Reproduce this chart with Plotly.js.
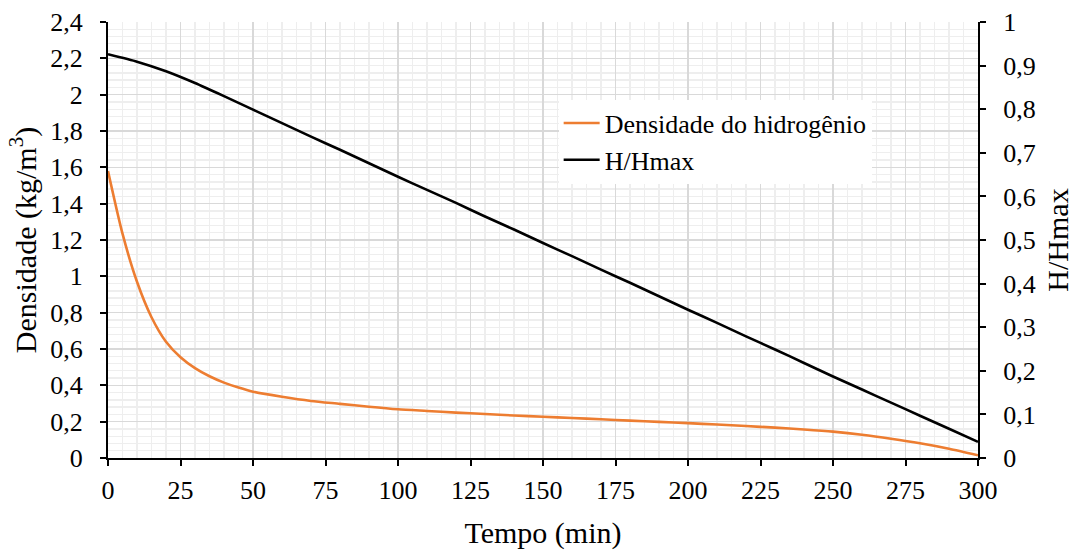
<!DOCTYPE html>
<html>
<head>
<meta charset="utf-8">
<script src="https://cdn.plot.ly/plotly-3.0.1.min.js"></script>
<style>
  html, body { margin: 0; padding: 0; background: #ffffff; }
  #chart { width: 1079px; height: 551px; }
</style>
</head>
<body>
<div id="chart"></div>
<script>
// Hydrogen density during discharge (left axis, kg/m³)
const tempoDensidade = [0, 5, 10, 15, 20, 25, 30, 35, 40, 45, 50,
  60, 70, 80, 90, 100, 110, 120, 130, 140, 150, 160, 170, 180, 190, 200,
  210, 220, 230, 240, 250, 260, 270, 280, 290, 300];
const densidade = [1.58, 1.235, 0.97, 0.775, 0.64, 0.555, 0.495, 0.45, 0.415, 0.3875, 0.365,
  0.337, 0.314, 0.298, 0.282, 0.268, 0.259, 0.250, 0.242, 0.234, 0.227, 0.220, 0.213, 0.206, 0.199, 0.192,
  0.184, 0.176, 0.167, 0.157, 0.145, 0.128, 0.106, 0.081, 0.051, 0.015];

// Relative level H/Hmax (right axis)
const tempoNivel = [0, 10, 20, 30, 40, 50, 60, 70, 80, 90, 100, 110, 120, 130, 140, 150,
  160, 170, 180, 190, 200, 210, 220, 230, 240, 250, 260, 270, 280, 290, 300];
const nivel = [0.926, 0.909, 0.887, 0.860, 0.830, 0.799, 0.768, 0.737, 0.707, 0.676, 0.645, 0.615, 0.585, 0.554, 0.524, 0.493,
  0.463, 0.432, 0.402, 0.371, 0.340, 0.310, 0.279, 0.249, 0.218, 0.187, 0.157, 0.127, 0.097, 0.067, 0.037];

// Axis ticks and their labels (comma decimal separator)
const xTicks = [0, 25, 50, 75, 100, 125, 150, 175, 200, 225, 250, 275, 300];
const yTicks = [0, 0.2, 0.4, 0.6, 0.8, 1, 1.2, 1.4, 1.6, 1.8, 2, 2.2, 2.4];
const yTickLabels = ['0', '0,2', '0,4', '0,6', '0,8', '1', '1,2', '1,4', '1,6', '1,8', '2', '2,2', '2,4'];
const y2Ticks = [0, 0.1, 0.2, 0.3, 0.4, 0.5, 0.6, 0.7, 0.8, 0.9, 1];
const y2TickLabels = ['0', '0,1', '0,2', '0,3', '0,4', '0,5', '0,6', '0,7', '0,8', '0,9', '1'];

const serif = '"Liberation Serif", "Times New Roman", serif';
const majorGrid = '#d9d9d9';
const minorGrid = '#eeeeee';

const traces = [
  {
    x: tempoDensidade, y: densidade, name: 'Densidade do hidrogênio',
    type: 'scatter', mode: 'lines', yaxis: 'y',
    line: { color: '#ED7D31', width: 2.6, shape: 'spline', smoothing: 0.7 }
  },
  {
    x: tempoNivel, y: nivel, name: 'H/Hmax',
    type: 'scatter', mode: 'lines', yaxis: 'y2',
    line: { color: '#000000', width: 2.6, shape: 'spline', smoothing: 0.5 }
  }
];

const layout = {
  width: 1079, height: 551,
  margin: { l: 108, r: 101, t: 22, b: 93, pad: 0 },
  paper_bgcolor: '#ffffff', plot_bgcolor: '#ffffff',
  font: { family: serif, size: 26, color: '#000000' },
  showlegend: true,
  legend: {
    x: 0.518, y: 0.822, xanchor: 'left', yanchor: 'top',
    bgcolor: '#ffffff', borderwidth: 0,
    font: { family: serif, size: 26, color: '#000000' },
    tracegroupgap: 0, itemwidth: 36
  },
  xaxis: {
    range: [0, 300], tickmode: 'array', tickvals: xTicks,
    ticks: 'outside', ticklen: 6, tickwidth: 2, tickcolor: '#000000',
    ticklabelstandoff: 2,
    showline: true, linecolor: '#000000', linewidth: 2,
    showgrid: true, gridcolor: majorGrid, gridwidth: 1.3,
    minor: { tickmode: 'linear', tick0: 0, dtick: 5, showgrid: true, gridcolor: minorGrid, gridwidth: 1.3, ticks: '' },
    zeroline: false,
    title: { text: 'Tempo (min)', font: { family: serif, size: 30 }, standoff: 18 },
    tickfont: { family: serif, size: 26 }
  },
  yaxis: {
    range: [0, 2.4], tickmode: 'array', tickvals: yTicks, ticktext: yTickLabels,
    ticks: 'outside', ticklen: 6, tickwidth: 2, tickcolor: '#000000',
    ticklabelstandoff: 12,
    showline: true, linecolor: '#000000', linewidth: 2,
    showgrid: true, gridcolor: majorGrid, gridwidth: 1.3,
    minor: { tickmode: 'linear', tick0: 0, dtick: 0.04, showgrid: true, gridcolor: minorGrid, gridwidth: 1.3, ticks: '' },
    zeroline: false,
    title: { text: 'Densidade (kg/m<sup>3</sup>)', font: { family: serif, size: 30 }, standoff: 5 },
    tickfont: { family: serif, size: 26 }
  },
  yaxis2: {
    range: [0, 1], overlaying: 'y', side: 'right', anchor: 'x',
    tickmode: 'array', tickvals: y2Ticks, ticktext: y2TickLabels,
    ticks: 'outside', ticklen: 6, tickwidth: 2, tickcolor: '#000000',
    ticklabelstandoff: 12,
    showline: true, linecolor: '#000000', linewidth: 2,
    showgrid: false, zeroline: false,
    title: { text: 'H/Hmax', font: { family: serif, size: 30 }, standoff: 12 },
    tickfont: { family: serif, size: 26 }
  }
};

Plotly.newPlot('chart', traces, layout, { displayModeBar: false, staticPlot: true });
</script>
</body>
</html>
